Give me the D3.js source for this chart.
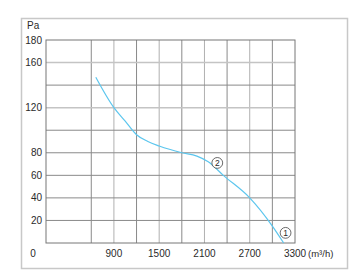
<!DOCTYPE html>
<html>
<head>
<meta charset="utf-8">
<script src="https://cdn.jsdelivr.net/npm/d3@7"></script>
<style>
  body { margin: 0; background: #fff; }
  text { font-family: "Liberation Sans", Arial, sans-serif; fill: #2a2a2a; }
</style>
</head>
<body>
<div id="chart"></div>
<script>
// fan curve: airflow (m³/h) vs static pressure (Pa)
const flow = [660, 900, 1050, 1200, 1350, 1500, 1800, 2000, 2150, 2350, 2700, 3000, 3150];
const pressure = [147, 120, 108, 96, 90, 86, 80, 77, 72, 60, 40, 15, 0];
const xGrid = [600, 900, 1200, 1500, 1800, 2100, 2400, 2700, 3000];
const xLabels = [900, 1500, 2100, 2700, 3300];
const yGrid = [20, 40, 60, 80, 100, 120, 140, 160];
const yLabels = [20, 40, 60, 80, 120, 160, 180];
const markers = [{ flow: 2270, p: 71, label: "2" }, { flow: 3175, p: 9, label: "1" }];

const W = 363, H = 280;
const margin = { top: 40, right: 68, bottom: 37, left: 46 };
const width = W - margin.left - margin.right;
const height = H - margin.top - margin.bottom;

const svg = d3.select("#chart").append("svg")
  .attr("width", W).attr("height", H);

// outer frame
svg.append("rect")
  .attr("x", 21.5).attr("y", 18.5).attr("width", 326).attr("height", 250)
  .attr("fill", "none").attr("stroke", "#c8c8c8").attr("stroke-width", 1.5);

const g = svg.append("g").attr("transform", `translate(${margin.left},${margin.top})`);

const x = d3.scaleLinear().domain([0, 3300]).range([0, width]);
const y = d3.scaleLinear().domain([0, 180]).range([height, 0]);

// grid
g.selectAll(".vg").data(xGrid).enter().append("line")
  .attr("x1", d => x(d)).attr("x2", d => x(d))
  .attr("y1", 0).attr("y2", height)
  .attr("stroke", (d, i) => i % 2 ? "#b0b0b0" : "#8a8a8a").attr("stroke-width", 1);

g.selectAll(".hg").data(yGrid).enter().append("line")
  .attr("x1", 0).attr("x2", width)
  .attr("y1", d => y(d)).attr("y2", d => y(d))
  .attr("stroke", d => (d === 160 || d === 120) ? "#c4c4c4" : "#8a8a8a")
  .attr("stroke-width", d => (d === 160 || d === 120) ? 1.5 : 1);

// plot box
g.append("rect")
  .attr("x", 0).attr("y", 0).attr("width", width).attr("height", height)
  .attr("fill", "none").attr("stroke", "#777").attr("stroke-width", 1);

// y labels
g.selectAll(".yl").data(yLabels).enter().append("text")
  .attr("x", -4).attr("y", d => y(d)).attr("dy", "0.35em")
  .attr("text-anchor", "end").attr("font-size", 10)
  .text(d => d);

g.append("text").attr("x", -19).attr("y", -11).attr("font-size", 10).text("Pa");

// x labels
g.selectAll(".xl").data(xLabels).enter().append("text")
  .attr("x", d => x(d)).attr("y", height + 7).attr("dy", "0.7em")
  .attr("text-anchor", "middle").attr("font-size", 10)
  .text(d => d);

g.append("text").attr("x", -13).attr("y", height + 7).attr("dy", "0.7em")
  .attr("text-anchor", "middle").attr("font-size", 10).text("0");

g.append("text").attr("x", x(3300) + 13).attr("y", height + 7).attr("dy", "0.7em")
  .attr("font-size", 9.5).text("(m³/h)");

// curve
const line = d3.line().x((d, i) => x(flow[i])).y(d => y(d)).curve(d3.curveMonotoneX);
g.append("path").datum(pressure)
  .attr("d", line)
  .attr("fill", "none").attr("stroke", "#5cc6ee").attr("stroke-width", 1.2);

// operating point markers
const mk = g.selectAll(".mk").data(markers).enter().append("g")
  .attr("transform", d => `translate(${x(d.flow)},${y(d.p)})`);
mk.append("circle").attr("r", 5.4).attr("fill", "#fff").attr("stroke", "#444").attr("stroke-width", 0.8);
mk.append("text").attr("text-anchor", "middle").attr("dy", "0.36em")
  .attr("font-size", 8.5).text(d => d.label);
</script>
</body>
</html>
